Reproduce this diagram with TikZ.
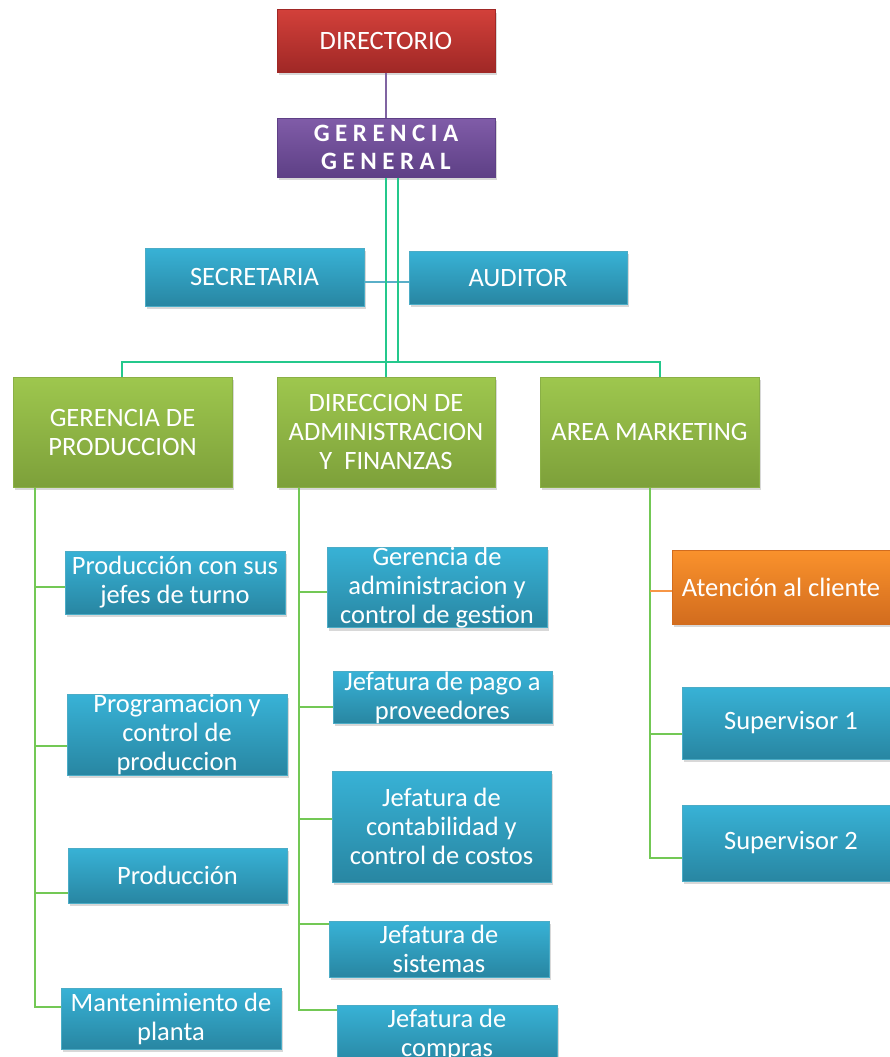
\documentclass[tikz,border=0pt]{standalone}
\usepackage{fontspec}
\setmainfont{Carlito}
\usetikzlibrary{shadows}

\definecolor{azulA}{RGB}{56,178,214}
\definecolor{azulB}{RGB}{40,134,162}
\definecolor{azulBorde}{RGB}{75,172,198}
\definecolor{verdeA}{RGB}{158,199,78}
\definecolor{verdeB}{RGB}{125,160,58}
\definecolor{verdeBorde}{RGB}{138,176,70}
\definecolor{rojoA}{RGB}{210,64,58}
\definecolor{rojoB}{RGB}{160,40,38}
\definecolor{moradoA}{RGB}{128,92,168}
\definecolor{moradoB}{RGB}{94,64,134}
\definecolor{naranjaA}{RGB}{250,146,44}
\definecolor{naranjaB}{RGB}{210,108,30}
\definecolor{lineaVerde}{RGB}{115,200,85}
\definecolor{lineaTeal}{RGB}{36,200,140}
\definecolor{lineaAzul}{RGB}{90,175,200}
\definecolor{lineaMorado}{RGB}{128,100,162}
\definecolor{lineaNaranja}{RGB}{247,150,70}

\tikzset{
  caja/.style={line width=1pt, text=white, align=center, inner sep=0pt,
    font=\fontsize{26.5}{29}\selectfont,
    drop shadow={shadow xshift=2pt, shadow yshift=-3pt, opacity=.3}},
  tam/.style 2 args={minimum width=#1pt, minimum height=#2pt},
  cajaazul/.style={caja, draw=azulBorde, top color=azulA, bottom color=azulB},
  cajaverde/.style={caja, draw=verdeBorde, top color=verdeA, bottom color=verdeB},
  cajaroja/.style={caja, draw=rojoB, top color=rojoA, bottom color=rojoB},
  cajamorada/.style={caja, draw=moradoB, top color=moradoA, bottom color=moradoB},
  cajanaranja/.style={caja, draw=naranjaB, top color=naranjaA, bottom color=naranjaB},
  bus/.style={lineaTeal, line width=1.8pt},
  rama/.style={lineaVerde, line width=2pt},
}

\begin{document}
\begin{tikzpicture}[x=1pt,y=-1pt]
\useasboundingbox (0,0) rectangle (890,1057);
\clip (0,0) rectangle (890,1057);
\fill[white] (0,0) rectangle (890,1057);

% cabecera
\node[cajaroja, tam={218}{62}] (dir) at (386,41) {DIRECTORIO};
\node[cajamorada, tam={218}{59}, font=\fontsize{25}{28}\bfseries\addfontfeatures{LetterSpace=22}] (gg) at (386,147.5) {GERENCIA\\GENERAL};
\node[cajaazul, tam={219}{58}] (sec) at (254.5,277) {SECRETARIA};
\node[cajaazul, tam={218}{53}] (aud) at (518,277.5) {AUDITOR};

% gerencias
\node[cajaverde, tam={219}{110}] (gp) at (122.5,432) {GERENCIA DE\\PRODUCCION};
\node[cajaverde, tam={218}{110}] (daf) at (386,432) {DIRECCION DE\\ADMINISTRACION\\Y\ \ FINANZAS};
\node[cajaverde, tam={219}{110}] (am) at (649.5,432) {AREA MARKETING};

% produccion
\node[cajaazul, tam={220}{63}] (pjt) at (175,582.5) {Producción con sus\\jefes de turno};
\node[cajaazul, tam={220}{80}] (prog) at (177,735) {Programacion y\\control de\\produccion};
\node[cajaazul, tam={219}{55}] (prodn) at (177.5,875.5) {Producción};
\node[cajaazul, tam={220}{61}] (mant) at (171,1018.5) {Mantenimiento de\\planta};

% administracion y finanzas
\node[cajaazul, tam={220}{77}] (gadm) at (437,587.5) {Gerencia de\\administracion y\\control de gestion};
\node[cajaazul, tam={219}{51}] (pago) at (442.5,697.5) {Jefatura de pago a\\proveedores};
\node[cajaazul, tam={219}{111}] (cont) at (441.5,826.5) {Jefatura de\\contabilidad y\\control de costos};
\node[cajaazul, tam={220}{56}] (sist) at (439,949) {Jefatura de\\sistemas};
\node[cajaazul, tam={220}{60}] (comp) at (447,1035) {Jefatura de\\compras};

% marketing
\node[cajanaranja, tam={218}{74}] (aten) at (781,587) {Atención al cliente};
\node[cajaazul, tam={218}{72}] (sup1) at (791,723) {Supervisor 1};
\node[cajaazul, tam={218}{76}] (sup2) at (791,843) {Supervisor 2};

% conectores superiores
\draw[lineaMorado, line width=1.5pt] (dir.south) -- (gg.north);
\draw[lineaAzul, line width=1.5pt] ([yshift=-5pt]sec.east) -- ([yshift=-5pt]sec.east -| aud.west);
\coordinate (busL) at (122,362);
\coordinate (busR) at (660,362);
\draw[bus] (gg.south) -- (daf.north);
\draw[bus] ([xshift=12pt]gg.south) |- (busL) -- (busL |- gp.north);
\draw[bus] (busL) -- (busR) -- (busR |- am.north);

% columna produccion
\coordinate (colP) at ([xshift=22pt]gp.south west);
\draw[rama] (colP) |- ([yshift=11.5pt]mant.west);
\draw[rama] ([yshift=-4.5pt]pjt.west) -- ([yshift=-4.5pt]pjt.west -| colP);
\draw[rama] ([yshift=-11pt]prog.west) -- ([yshift=-11pt]prog.west -| colP);
\draw[rama] ([yshift=-17.5pt]prodn.west) -- ([yshift=-17.5pt]prodn.west -| colP);

% columna administracion
\coordinate (colD) at ([xshift=22pt]daf.south west);
\draw[rama] (colD) |- ([yshift=25pt]comp.west);
\draw[rama] ([yshift=-4.5pt]gadm.west) -- ([yshift=-4.5pt]gadm.west -| colD);
\draw[rama] ([yshift=-9.5pt]pago.west) -- ([yshift=-9.5pt]pago.west -| colD);
\draw[rama] ([yshift=7.5pt]cont.west) -- ([yshift=7.5pt]cont.west -| colD);
\draw[rama] ([yshift=25pt]sist.west) -- ([yshift=25pt]sist.west -| colD);

% columna marketing
\coordinate (colM) at ([xshift=110pt]am.south west);
\draw[rama] (colM) |- ([yshift=-15pt]sup2.west);
\draw[rama] ([yshift=-11pt]sup1.west) -- ([yshift=-11pt]sup1.west -| colM);
\draw[lineaNaranja, line width=1.8pt] ([yshift=-4pt]aten.west) -- ([yshift=-4pt]aten.west -| colM);
\end{tikzpicture}
\end{document}
